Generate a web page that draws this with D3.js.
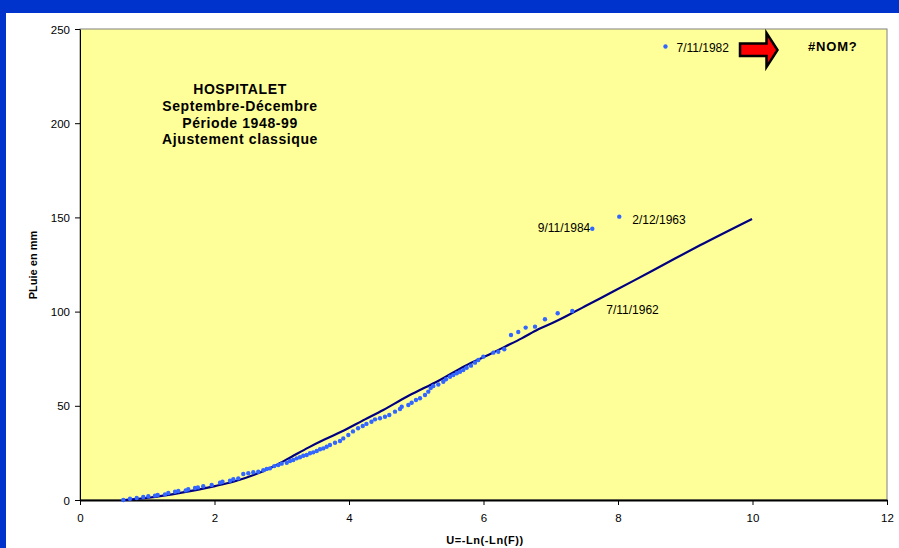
<!DOCTYPE html>
<html>
<head>
<meta charset="utf-8">
<script src="https://cdn.jsdelivr.net/npm/d3@7"></script>
<style>
  html, body { margin: 0; padding: 0; background: #0033cc; overflow: hidden; }
  svg { display: block; }
  text { font-family: "Liberation Sans", Arial, sans-serif; fill: #000; }
</style>
</head>
<body>
<svg id="chart" width="899" height="548"></svg>
<script>
// Observed daily rainfall (mm) against the Gumbel reduced variable U
const uObs = [0.644, 0.743, 0.843, 0.941, 1.016, 1.115, 1.155, 1.264, 1.313, 1.413,
  1.462, 1.572, 1.610, 1.710, 1.753, 1.833, 1.958, 2.082, 2.119, 2.230,
  2.280, 2.354, 2.428, 2.503, 2.577, 2.651, 2.726, 2.776, 2.825, 2.889,
  2.949, 2.999, 3.074, 3.123, 3.172, 3.222, 3.271, 3.320, 3.371, 3.420,
  3.469, 3.520, 3.569, 3.618, 3.668, 3.717, 3.792, 3.866, 3.915, 3.990,
  4.059, 4.135, 4.204, 4.259, 4.334, 4.387, 4.461, 4.535, 4.599, 4.684,
  4.758, 4.784, 4.882, 4.932, 4.996, 5.056, 5.130, 5.179, 5.215, 5.254,
  5.328, 5.402, 5.442, 5.502, 5.551, 5.602, 5.651, 5.700, 5.750, 5.814,
  5.874, 5.923, 5.997, 6.146, 6.220, 6.309, 6.409, 6.517, 6.627, 6.766,
  6.914, 7.103, 7.320, 7.618, 8.019, 8.706];
const pluieObs = [0.0, 0.7, 1.1, 1.6, 2.0, 2.3, 2.7, 3.0, 3.7, 4.4,
  4.8, 5.1, 5.7, 6.4, 6.7, 7.3, 8.0, 9.2, 9.7, 10.2,
  11.0, 11.5, 13.8, 14.2, 14.7, 15.0, 15.8, 16.5, 16.8, 18.0,
  18.6, 19.3, 19.8, 20.7, 21.2, 22.1, 22.7, 23.5, 23.9, 24.8,
  25.3, 26.0, 26.9, 27.4, 28.3, 29.2, 30.4, 31.3, 32.7, 34.5,
  36.4, 38.1, 39.3, 40.4, 41.5, 42.8, 43.4, 44.2, 45.1, 46.9,
  48.3, 49.5, 50.4, 51.6, 53.1, 54.0, 55.7, 57.5, 59.4, 60.5,
  61.3, 62.8, 64.1, 65.4, 66.3, 67.3, 68.1, 69.0, 70.2, 71.3,
  72.9, 74.3, 76.1, 78.2, 78.7, 80.0, 87.6, 89.2, 91.5, 92.0,
  95.9, 99.1, 100.3, 144.0, 150.4, 240.7];

// Fitted distribution (classical adjustment)
const uFit = [0.654, 1.016, 1.512, 2.007, 2.280, 2.900, 3.148, 3.395, 3.643, 3.891,
  4.238, 4.510, 4.858, 5.155, 5.353, 5.725, 6.071, 6.320, 6.568, 6.815,
  7.063, 7.311, 7.509, 7.732, 8.228, 8.724, 9.219, 9.993];
const pluieFit = [0.0, 1.2, 3.9, 7.4, 9.7, 18.2, 23.0, 27.8, 32.2, 36.3,
  42.8, 47.8, 54.8, 60.1, 63.7, 71.1, 77.0, 81.4, 85.8, 90.6,
  94.6, 99.1, 102.8, 107.0, 116.3, 125.8, 135.2, 149.2];

// Dated events (index into the observed arrays)
const eventIndex = [92, 93, 94, 95];
const eventDates = ["7/11/1962", "9/11/1984", "2/12/1963", "7/11/1982"];

const xTicks = [0, 2, 4, 6, 8, 10, 12];
const yTicks = [0, 50, 100, 150, 200, 250];
const titleLines = ["HOSPITALET", "Septembre-Décembre", "Période 1948-99", "Ajustement classique"];
const xTitle = "U=-Ln(-Ln(F))";
const yTitle = "PLuie en mm";
const errorText = "#NOM?";

const svg = d3.select("#chart");

// white chart panel over the blue slide
svg.append("rect").attr("x", 6).attr("y", 13).attr("width", 893).attr("height", 535).attr("fill", "#ffffff");

const plot = { left: 80, top: 29, right: 887, bottom: 500 };
const x = d3.scaleLinear().domain([0, 12]).range([plot.left, plot.right]);
const y = d3.scaleLinear().domain([0, 250]).range([plot.bottom, plot.top]);

svg.append("rect")
  .attr("x", plot.left).attr("y", plot.top)
  .attr("width", plot.right - plot.left).attr("height", plot.bottom - plot.top)
  .attr("fill", "#ffff99").attr("stroke", "#808080").attr("stroke-width", 1);

// axes
const xAxis = svg.append("g").attr("transform", `translate(0,${plot.bottom})`)
  .call(d3.axisBottom(x).tickValues(xTicks).tickSize(5).tickSizeOuter(0).tickFormat(d3.format("d")));
const yAxis = svg.append("g").attr("transform", `translate(${plot.left},0)`)
  .call(d3.axisLeft(y).tickValues(yTicks).tickSize(5).tickSizeOuter(0).tickFormat(d3.format("d")));

xAxis.select(".domain").attr("stroke", "#000").attr("stroke-width", 2);
yAxis.select(".domain").attr("stroke", "#000").attr("stroke-width", 1);
[xAxis, yAxis].forEach(a => {
  a.selectAll(".tick line").attr("stroke", "#000");
  a.selectAll(".tick text").attr("font-size", "11.5px").attr("font-family", "Liberation Sans, Arial, sans-serif").attr("fill", "#000");
});
xAxis.selectAll(".tick text").attr("dy", "1.25em");
yAxis.selectAll(".tick text").attr("x", -10).attr("dy", "0.35em");

// fitted curve
const line = d3.line().x((d, i) => x(uFit[i])).y((d, i) => y(pluieFit[i])).curve(d3.curveMonotoneX);
svg.append("path").datum(uFit).attr("d", line)
  .attr("fill", "none").attr("stroke", "#000080").attr("stroke-width", 2.2).attr("stroke-linejoin", "round");

// observations
svg.append("g").selectAll("circle").data(uObs).join("circle")
  .attr("cx", (d) => x(d)).attr("cy", (d, i) => y(pluieObs[i])).attr("r", 2.2)
  .attr("fill", "#3366ff");

// event labels
const labelOffsets = [[34, 3, "start"], [-2, 3, "end"], [13, 7, "start"], [11, 5, "start"]];
eventIndex.forEach((k, j) => {
  const [dx, dy, anchor] = labelOffsets[j];
  svg.append("text")
    .attr("x", x(uObs[k]) + dx).attr("y", y(pluieObs[k]) + dy)
    .attr("text-anchor", anchor).attr("font-size", "12px")
    .text(eventDates[j]);
});

// arrow pointing to the off-scale label
svg.append("path")
  .attr("d", "M740,43.5 L766.5,43.5 L766.5,33 L777.5,50 L766.5,67 L766.5,56 L740,56 Z")
  .attr("fill", "#ff0000").attr("stroke", "#000").attr("stroke-width", 2.5).attr("stroke-linejoin", "miter");
svg.append("text").attr("x", 808).attr("y", 51)
  .attr("font-size", "13px").attr("font-weight", "bold").attr("letter-spacing", "0.8px")
  .text(errorText);

// title block
const title = svg.append("text").attr("text-anchor", "middle")
  .attr("font-size", "14px").attr("font-weight", "bold").attr("letter-spacing", "0.6px");
titleLines.forEach((t, i) => {
  title.append("tspan").attr("x", 240).attr("y", 94 + i * 16.8).text(t);
});

// axis titles
svg.append("text").attr("x", 485).attr("y", 544).attr("text-anchor", "middle")
  .attr("font-size", "11px").attr("font-weight", "bold").attr("letter-spacing", "0.6px")
  .text(xTitle);
svg.append("text").attr("transform", "translate(37,265) rotate(-90)").attr("text-anchor", "middle")
  .attr("font-size", "11px").attr("font-weight", "bold")
  .text(yTitle);
</script>
</body>
</html>
